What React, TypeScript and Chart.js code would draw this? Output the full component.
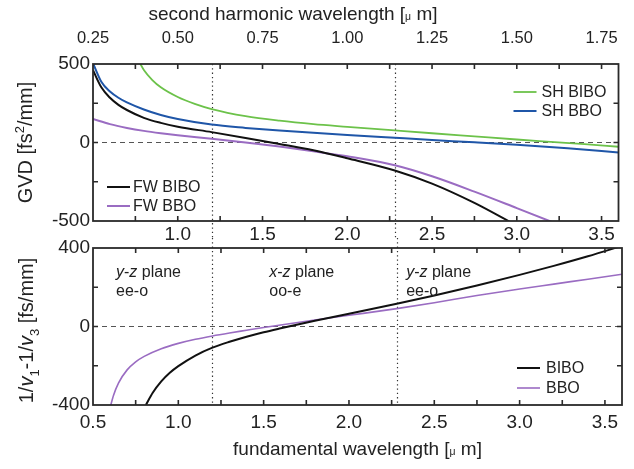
import { useEffect, useRef } from "react";
import { Chart, registerables } from "chart.js";

Chart.register(...registerables);

const FONT = "'Liberation Sans', Arial, Helvetica, sans-serif";
const TXT = "#222";
const BLACK = "#111111";
const PURPLE = "#9a6cc2";
const GREEN = "#6cc24a";
const BLUE = "#1f56a8";

// ---------- top panel: GVD [fs^2/mm] vs fundamental wavelength [um] ----------
const fwBiboX = [0.5, 0.55, 0.6, 0.65, 0.7, 0.8, 0.9, 1.0, 1.2, 1.4, 1.6, 1.8, 2.0, 2.28, 2.5, 2.75, 3.0];
const fwBiboGVD = [460, 350, 285, 240, 207, 157, 125, 101, 66, 29, -9, -49, -100, -178, -262, -385, -530];

const fwBboX = [0.5, 0.6, 0.7, 0.8, 0.9, 1.0, 1.2, 1.4, 1.6, 1.8, 2.0, 2.28, 2.5, 2.75, 3.0, 3.2, 3.3];
const fwBboGVD = [150, 117, 93, 74, 59, 46, 24, 0, -26, -56, -88, -145, -215, -313, -418, -503, -546];

const shBiboX = [0.77, 0.8, 0.85, 0.9, 1.0, 1.1, 1.2, 1.4, 1.6, 1.8, 2.0, 2.28, 2.5, 2.75, 3.0, 3.2, 3.4, 3.6];
const shBiboGVD = [520, 462, 398, 352, 290, 246, 213, 168, 139, 117, 100, 77, 59, 39, 19, 4, -11, -27];

const shBboX = [0.5, 0.55, 0.6, 0.65, 0.7, 0.8, 0.9, 1.0, 1.2, 1.4, 1.6, 1.8, 2.0, 2.28, 2.5, 2.75, 3.0, 3.3, 3.6];
const shBboGVD = [505, 385, 325, 285, 255, 210, 175, 150, 114, 93, 76, 62, 48, 30, 16, 1, -15, -37, -64];

// ---------- bottom panel: 1/v1 - 1/v3 [fs/mm] vs fundamental wavelength ----------
const biboX = [0.81, 0.85, 0.9, 0.95, 1.0, 1.1, 1.2, 1.3, 1.4, 1.5, 1.6, 1.7, 1.8, 2.0, 2.28, 2.5, 2.75, 3.0, 3.2, 3.4, 3.6];
const biboGVM = [-400, -338, -280, -236, -202, -148, -108, -78, -52, -29, -9, 10, 29, 65, 116, 158, 209, 263, 309, 358, 411];

const bboX = [0.6, 0.62, 0.65, 0.7, 0.75, 0.8, 0.9, 1.0, 1.1, 1.2, 1.3, 1.4, 1.5, 1.6, 1.7, 1.8, 2.0, 2.28, 2.5, 2.75, 3.0, 3.2, 3.4, 3.6];
const bboGVM = [-414, -351, -287, -221, -180, -152, -113, -86, -65, -48, -33, -19, -5, 8, 20, 33, 57, 91, 121, 158, 191, 216, 241, 266];

// axis ranges
const fwRange = [0.5, 3.6];
const shRange = [0.25, 1.8];
const gvdRange = [-500, 500];
const gvmRange = [-400, 400];

// phase-matching boundaries (fundamental wavelength, um)
const boundaries = [1.2, 2.28];

// region annotations (bottom panel)
const regionX = [0.635, 1.533, 2.335];
const regionPlane = [["y", "z"], ["x", "z"], ["y", "z"]];
const regionType = ["ee-o", "oo-e", "ee-o"];
const regionBaselineY = [254, 154];

type Seg = { t: string; it?: boolean; sub?: boolean; sup?: boolean; sm?: boolean };

function pts(xs: number[], ys: number[]) {
  return xs.map((x, i) => ({ x, y: ys[i] }));
}

function segFont(s: Seg, size: number) {
  const sz = s.sub || s.sup ? size * 0.65 : s.sm ? size * 0.55 : size;
  return {
    font: `${s.it ? "italic " : ""}${sz}px ${FONT}`,
    dy: s.sub ? size * 0.28 : s.sup ? -size * 0.42 : 0,
  };
}

// draws rich text; (cx, cy) = anchor, baseline placed at cy + 0.35*size
function drawRich(ctx: CanvasRenderingContext2D, segs: Seg[], cx: number, cy: number, size: number, align: "center" | "left", rot = 0) {
  ctx.save();
  ctx.translate(cx, cy);
  if (rot) ctx.rotate(rot);
  ctx.textBaseline = "alphabetic";
  ctx.textAlign = "left";
  ctx.fillStyle = TXT;
  let total = 0;
  const ws = segs.map((s) => {
    ctx.font = segFont(s, size).font;
    const w = ctx.measureText(s.t).width;
    total += w;
    return w;
  });
  let x = align === "center" ? -total / 2 : 0;
  segs.forEach((s, i) => {
    const f = segFont(s, size);
    ctx.font = f.font;
    ctx.fillText(s.t, x, size * 0.35 + f.dy);
    x += ws[i];
  });
  ctx.restore();
}

const isMult = (v: number, step: number) => Math.abs(v / step - Math.round(v / step)) < 1e-6;

function frameAndTicks(chart: any, topScaleId: string) {
  const { ctx, chartArea: ca } = chart;
  const xs = chart.scales.x;
  const xt = chart.scales[topScaleId];
  const ys = chart.scales.y;
  const L = 5;
  ctx.save();
  ctx.strokeStyle = "#2a2a2a";
  ctx.lineWidth = 1.6;
  ctx.beginPath();
  xs.ticks.forEach((t: any) => {
    const p = xs.getPixelForValue(t.value);
    if (p <= ca.left + 1 || p >= ca.right - 1) return;
    ctx.moveTo(p, ca.bottom);
    ctx.lineTo(p, ca.bottom - L);
  });
  xt.ticks.forEach((t: any) => {
    const p = xt.getPixelForValue(t.value);
    if (p <= ca.left + 1 || p >= ca.right - 1) return;
    ctx.moveTo(p, ca.top);
    ctx.lineTo(p, ca.top + L);
  });
  ys.ticks.forEach((t: any) => {
    const p = ys.getPixelForValue(t.value);
    if (p <= ca.top + 1 || p >= ca.bottom - 1) return;
    ctx.moveTo(ca.left, p);
    ctx.lineTo(ca.left + L, p);
    ctx.moveTo(ca.right, p);
    ctx.lineTo(ca.right - L, p);
  });
  ctx.stroke();
  ctx.lineWidth = 1.8;
  ctx.strokeRect(ca.left, ca.top, ca.right - ca.left, ca.bottom - ca.top);
  ctx.restore();
}

function guides(chart: any, y0: number, y1: number) {
  const { ctx, chartArea: ca } = chart;
  const xs = chart.scales.x;
  const ys = chart.scales.y;
  ctx.save();
  ctx.strokeStyle = "#555";
  ctx.lineWidth = 1.2;
  ctx.setLineDash([5, 4]);
  const pz = ys.getPixelForValue(0);
  ctx.beginPath();
  ctx.moveTo(ca.left, pz);
  ctx.lineTo(ca.right, pz);
  ctx.stroke();
  ctx.strokeStyle = "#333";
  ctx.setLineDash([1.3, 3]);
  ctx.beginPath();
  boundaries.forEach((b) => {
    const p = Math.round(xs.getPixelForValue(b)) + 0.5;
    ctx.moveTo(p, y0);
    ctx.lineTo(p, y1);
  });
  ctx.stroke();
  ctx.restore();
}

function legend(chart: any, idx: number[], x0: number, yTop: number, gap: number, textX: number) {
  const { ctx } = chart;
  ctx.save();
  idx.forEach((di, k) => {
    const ds = chart.data.datasets[di];
    const y = yTop + k * gap;
    ctx.strokeStyle = ds.borderColor;
    ctx.lineWidth = ds.borderWidth;
    ctx.beginPath();
    ctx.moveTo(x0, y);
    ctx.lineTo(x0 + 23, y);
    ctx.stroke();
    ctx.fillStyle = TXT;
    ctx.font = `16px ${FONT}`;
    ctx.textBaseline = "middle";
    ctx.textAlign = "left";
    ctx.fillText(ds.label, textX, y + 0.5);
  });
  ctx.restore();
}

const lineDs = (label: string, data: any[], color: string, width: number) => ({
  label,
  data,
  borderColor: color,
  backgroundColor: color,
  borderWidth: width,
  pointRadius: 0,
  fill: false,
  cubicInterpolationMode: "monotone" as const,
});

const tickFont = { family: FONT, size: 19 };

export default function App() {
  const topRef = useRef<HTMLCanvasElement>(null);
  const botRef = useRef<HTMLCanvasElement>(null);

  useEffect(() => {
    const topPlugin = {
      id: "topDecor",
      beforeDatasetsDraw(chart: any) {
        const ca = chart.chartArea;
        guides(chart, ca.top, ca.bottom + 17);
      },
      afterDraw(chart: any) {
        const { ctx, chartArea: ca } = chart;
        frameAndTicks(chart, "x2");
        legend(chart, [0, 1], ca.left + 14, ca.bottom - 34, 19, ca.left + 40);
        legend(chart, [2, 3], ca.right - 105, ca.top + 28, 19, ca.right - 77);
        drawRich(ctx, [{ t: "second harmonic wavelength [" }, { t: "μ", sm: true }, { t: " m]" }], 293, 13.5, 19, "center");
        drawRich(ctx, [{ t: "GVD [fs" }, { t: "2", sup: true }, { t: "/mm]" }], 25, (ca.top + ca.bottom) / 2, 20, "center", -Math.PI / 2);
      },
    };

    const botPlugin = {
      id: "botDecor",
      beforeDatasetsDraw(chart: any) {
        const ca = chart.chartArea;
        guides(chart, ca.top - 10, ca.bottom);
      },
      afterDraw(chart: any) {
        const { ctx, chartArea: ca } = chart;
        const xs = chart.scales.x;
        const ys = chart.scales.y;
        frameAndTicks(chart, "x");
        legend(chart, [0, 1], ca.right - 105, ca.top + 120, 20, ca.right - 76);
        regionX.forEach((rx, i) => {
          const px = xs.getPixelForValue(rx);
          const [a, b] = regionPlane[i];
          const size = 16;
          drawRich(ctx, [{ t: a, it: true }, { t: "-" }, { t: b, it: true }, { t: " plane" }], px, ys.getPixelForValue(regionBaselineY[0]) - 0.35 * size, size, "left");
          drawRich(ctx, [{ t: regionType[i] }], px, ys.getPixelForValue(regionBaselineY[1]) - 0.35 * size, size, "left");
        });
        drawRich(ctx, [{ t: "fundamental wavelength [" }, { t: "μ", sm: true }, { t: " m]" }], (ca.left + ca.right) / 2, 218, 19, "center");
        drawRich(
          ctx,
          [
            { t: "1/" },
            { t: "v", it: true },
            { t: "1", sub: true },
            { t: "-1/" },
            { t: "v", it: true },
            { t: "3", sub: true },
            { t: " [fs/mm]" },
          ],
          26,
          (ca.top + ca.bottom) / 2 + 4,
          20,
          "center",
          -Math.PI / 2
        );
      },
    };

    const top = new Chart(topRef.current as HTMLCanvasElement, {
      type: "line",
      data: {
        datasets: [
          lineDs("FW BIBO", pts(fwBiboX, fwBiboGVD), BLACK, 2),
          lineDs("FW BBO", pts(fwBboX, fwBboGVD), PURPLE, 2),
          lineDs("SH BIBO", pts(shBiboX, shBiboGVD), GREEN, 1.8),
          lineDs("SH BBO", pts(shBboX, shBboGVD), BLUE, 2),
        ],
      },
      options: {
        animation: false,
        responsive: false,
        layout: { padding: { left: 0, right: 12, top: 0, bottom: 0 } },
        plugins: { legend: { display: false }, tooltip: { enabled: false } },
        scales: {
          x: {
            type: "linear",
            position: "bottom",
            min: fwRange[0],
            max: fwRange[1],
            grid: { display: false, drawTicks: false },
            border: { display: false },
            ticks: {
              stepSize: 0.25,
              includeBounds: false,
              autoSkip: false,
              maxRotation: 0,
              padding: 2,
              color: TXT,
              font: tickFont,
              callback: (v: any) => (isMult(v, 0.5) && v > 0.6 ? Number(v).toFixed(1) : ""),
            },
            afterFit: (s: any) => {
              s.height = 24;
            },
          },
          x2: {
            type: "linear",
            position: "top",
            min: shRange[0],
            max: shRange[1],
            grid: { display: false, drawTicks: false },
            border: { display: false },
            ticks: {
              stepSize: 0.125,
              includeBounds: false,
              autoSkip: false,
              maxRotation: 0,
              padding: 16,
              color: TXT,
              font: { family: FONT, size: 16.5 },
              callback: (v: any) => (isMult(v, 0.25) ? Number(v).toFixed(2) : ""),
            },
            afterFit: (s: any) => {
              s.height = 64;
            },
          },
          y: {
            type: "linear",
            min: gvdRange[0],
            max: gvdRange[1],
            grid: { display: false, drawTicks: false },
            border: { display: false },
            ticks: {
              stepSize: 250,
              includeBounds: false,
              autoSkip: false,
              padding: 3,
              color: TXT,
              font: tickFont,
              callback: (v: any) => (isMult(v, 500) ? String(v) : ""),
            },
            afterFit: (s: any) => {
              s.width = 93;
            },
          },
        },
      } as any,
      plugins: [topPlugin],
    });

    const bot = new Chart(botRef.current as HTMLCanvasElement, {
      type: "line",
      data: {
        datasets: [
          lineDs("BIBO", pts(biboX, biboGVM), BLACK, 2),
          lineDs("BBO", pts(bboX, bboGVM), PURPLE, 1.6),
        ],
      },
      options: {
        animation: false,
        responsive: false,
        layout: { padding: { left: 0, right: 12, top: 18, bottom: 0 } },
        plugins: { legend: { display: false }, tooltip: { enabled: false } },
        scales: {
          x: {
            type: "linear",
            position: "bottom",
            min: fwRange[0],
            max: fwRange[1],
            grid: { display: false, drawTicks: false },
            border: { display: false },
            ticks: {
              stepSize: 0.25,
              includeBounds: false,
              autoSkip: false,
              maxRotation: 0,
              padding: 6,
              color: TXT,
              font: tickFont,
              callback: (v: any) => (isMult(v, 0.5) ? Number(v).toFixed(1) : ""),
            },
            afterFit: (s: any) => {
              s.height = 64;
            },
          },
          y: {
            type: "linear",
            min: gvmRange[0],
            max: gvmRange[1],
            grid: { display: false, drawTicks: false },
            border: { display: false },
            ticks: {
              stepSize: 200,
              includeBounds: false,
              autoSkip: false,
              padding: 3,
              color: TXT,
              font: tickFont,
              callback: (v: any) => (isMult(v, 400) ? String(v) : ""),
            },
            afterFit: (s: any) => {
              s.width = 93;
            },
          },
        },
      } as any,
      plugins: [botPlugin],
    });

    return () => {
      top.destroy();
      bot.destroy();
    };
  }, []);

  return (
    <div>
      <canvas
        ref={topRef}
        width={634}
        height={245}
        style={{ position: "fixed", left: 0, top: 0, width: 634, height: 245 }}
      />
      <canvas
        ref={botRef}
        width={634}
        height={239}
        style={{ position: "fixed", left: 0, top: 230, width: 634, height: 239 }}
      />
    </div>
  );
}
